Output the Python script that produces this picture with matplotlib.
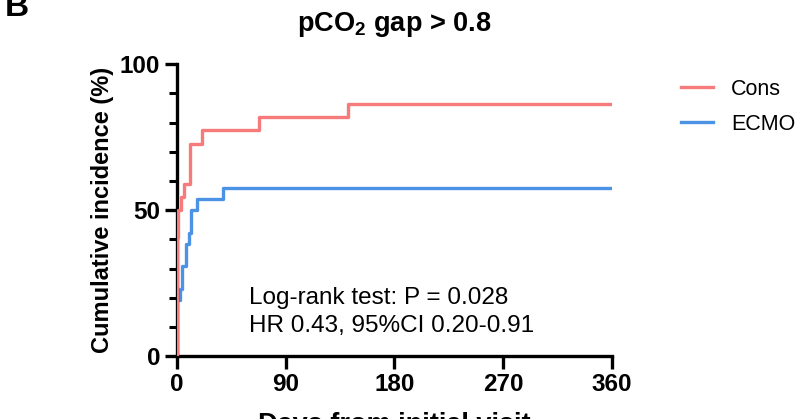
import numpy as np
import matplotlib
matplotlib.use('Agg')
import matplotlib.pyplot as plt

plt.rcParams['font.family'] = ['Liberation Sans', 'DejaVu Sans']
plt.rcParams['mathtext.fontset'] = 'custom'
plt.rcParams['mathtext.bf'] = 'Liberation Sans:bold'
plt.rcParams['mathtext.rm'] = 'Liberation Sans:bold'

# step data (days, cumulative %)
cons_days = [0, 0.3, 0.6, 1.0, 3.3, 5.8, 11.0, 20.5, 68, 141.5, 360]
cons_pct = [0, 40.9, 45.5, 50.0, 54.5, 59.1, 72.7, 77.3, 81.8, 86.4, 86.4]
ecmo_days = [0, 0.5, 3.0, 4.3, 7.5, 10.5, 11.5, 16.5, 38, 360]
ecmo_pct = [0, 19.2, 23.1, 30.8, 38.5, 42.3, 50.0, 53.8, 57.7, 57.7]

xticks = [0, 90, 180, 270, 360]
yticks = [0, 50, 100]

red = '#F77B7B'
blue = '#4C93E6'

fig = plt.figure(figsize=(8, 4.19), dpi=100)
ax = fig.add_axes([0.221, 0.150, 0.544, 0.697])

ax.step(cons_days, cons_pct, where='post', color=red, lw=2.4, label='Cons', zorder=3)
ax.step(ecmo_days, ecmo_pct, where='post', color=blue, lw=2.4, label='ECMO', zorder=2)

ax.set_xlim(0, 360)
ax.set_ylim(0, 100)
ax.set_xticks(xticks)
ax.set_yticks(yticks)
ax.set_yticks(np.arange(0, 101, 10), minor=True)
for s in ['top', 'right']:
    ax.spines[s].set_visible(False)
for s in ['left', 'bottom']:
    ax.spines[s].set_linewidth(2.4)
ax.tick_params(axis='both', which='major', width=2.4, length=9, labelsize=17.5, pad=3)
ax.tick_params(axis='y', which='minor', width=2.2, length=6)
for lab in ax.get_xticklabels() + ax.get_yticklabels():
    lab.set_fontweight('bold')

ax.set_ylabel('Cumulative incidence (%)', fontsize=17, fontweight='bold', labelpad=4)
ax.set_xlabel('Days from initial visit', fontsize=19.5, fontweight='bold', labelpad=12)
ax.set_title(r'pCO$_\mathbf{2}$ gap > 0.8', fontsize=19.5, fontweight='bold', pad=24)

ax.text(60, 17.8, 'Log-rank test: P = 0.028', fontsize=17.5)
ax.text(60, 8.2, 'HR 0.43, 95%CI 0.20-0.91', fontsize=17.5)

ax.legend(loc='upper left', bbox_to_anchor=(1.115, 1.016), frameon=False, fontsize=15.5,
          handlelength=1.45, handletextpad=0.85, labelspacing=0.65)

fig.text(0.006, 1.018, 'B', fontsize=24, fontweight='bold', va='top')

fig.savefig('out.png', dpi=100)
